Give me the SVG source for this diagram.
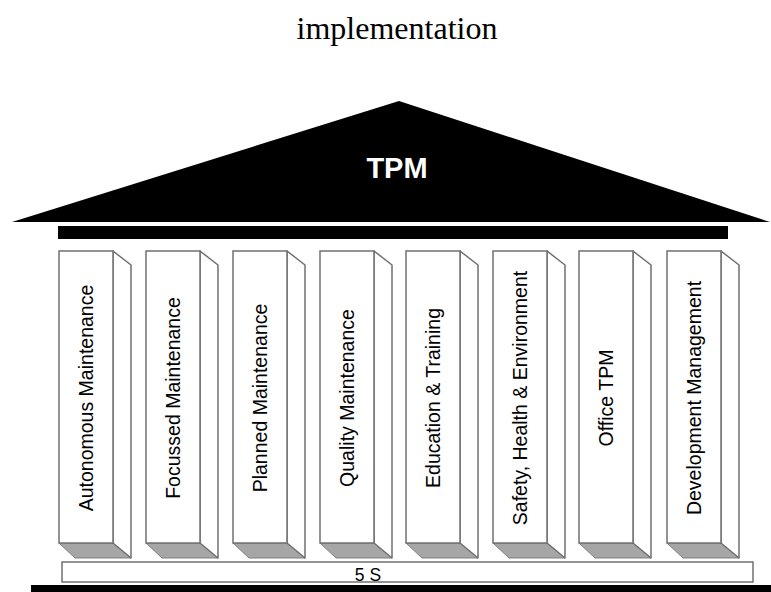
<svg xmlns="http://www.w3.org/2000/svg" width="771" height="592" viewBox="0 0 771 592">
<style>
.front{fill:#fff;stroke:#707070;stroke-width:1.5}
.side{fill:#fff;stroke:#707070;stroke-width:1.5;stroke-linejoin:round}
.shadow{fill:#a6a6a6;stroke:#808080;stroke-width:1}
.lbl{font-family:"Liberation Sans",Arial,sans-serif;font-size:19.5px;fill:#000;text-anchor:middle}
</style>
<defs>
<g id="pillar">
<polygon class="shadow" points="0,292 54,292 72,307 16,307"/>
<polygon class="side" points="54,0 72,14 72,307 54,292"/>
<rect class="front" x="0" y="0" width="54" height="292"/>
</g>
</defs>
<text x="397" y="39" font-family="'Liberation Serif','Times New Roman',serif" font-size="32" text-anchor="middle" fill="#000">implementation</text>
<g id="roof">
<polygon points="12,222 399,101 770,222" fill="#000"/>
<text x="397" y="178" font-family="'Liberation Sans',Arial,sans-serif" font-size="29" font-weight="bold" text-anchor="middle" fill="#fff">TPM</text>
</g>
<g id="beam"><rect x="58" y="226" width="670" height="13" fill="#000"/></g>
<g id="p1"><use href="#pillar" x="59" y="251"/><text class="lbl" transform="translate(86,398) rotate(-90)" y="7">Autonomous Maintenance</text></g>
<g id="p2"><use href="#pillar" x="146" y="251"/><text class="lbl" transform="translate(173,398) rotate(-90)" y="7">Focussed Maintenance</text></g>
<g id="p3"><use href="#pillar" x="233" y="251"/><text class="lbl" transform="translate(260,398) rotate(-90)" y="7">Planned Maintenance</text></g>
<g id="p4"><use href="#pillar" x="320" y="251"/><text class="lbl" transform="translate(347,398) rotate(-90)" y="7">Quality Maintenance</text></g>
<g id="p5"><use href="#pillar" x="406" y="251"/><text class="lbl" transform="translate(433,398) rotate(-90)" y="7">Education &amp; Training</text></g>
<g id="p6"><use href="#pillar" x="493" y="251"/><text class="lbl" transform="translate(520,398) rotate(-90)" y="7">Safety, Health &amp; Environment</text></g>
<g id="p7"><use href="#pillar" x="579" y="251"/><text class="lbl" transform="translate(606,398) rotate(-90)" y="7">Office TPM</text></g>
<g id="p8"><use href="#pillar" x="667" y="251"/><text class="lbl" transform="translate(694,398) rotate(-90)" y="7">Development Management</text></g>
<g id="base5s">
<rect x="62" y="562" width="691" height="20" fill="#fff" stroke="#707070" stroke-width="1.5"/>
<text x="368" y="581" font-family="'Liberation Sans',Arial,sans-serif" font-size="17.5" text-anchor="middle" fill="#000">5 S</text>
</g>
<g id="ground"><rect x="31" y="585" width="740" height="7" fill="#000"/></g>
<g id="connectors"/>
</svg>
